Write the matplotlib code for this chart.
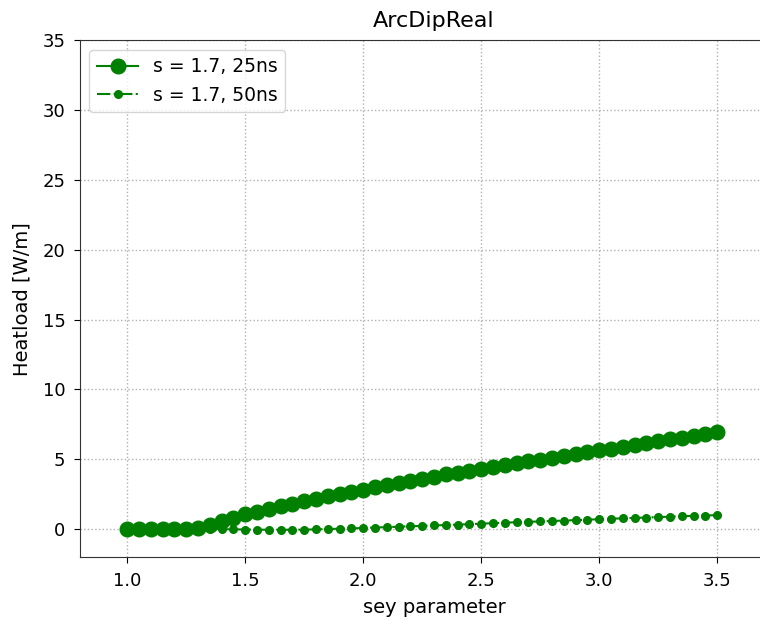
import matplotlib
matplotlib.use("Agg")
import matplotlib.pyplot as plt
import numpy as np

sey = [1.0, 1.05, 1.1, 1.15, 1.2, 1.25, 1.3, 1.35, 1.4, 1.45, 1.5, 1.55, 1.6, 1.65, 1.7,
       1.75, 1.8, 1.85, 1.9, 1.95, 2.0, 2.05, 2.1, 2.15, 2.2, 2.25, 2.3, 2.35, 2.4, 2.45,
       2.5, 2.55, 2.6, 2.65, 2.7, 2.75, 2.8, 2.85, 2.9, 2.95, 3.0, 3.05, 3.1, 3.15, 3.2,
       3.25, 3.3, 3.35, 3.4, 3.45, 3.5]

heat_25ns = [0.0, 0.0, 0.0, 0.0, 0.0, 0.0, 0.07, 0.28, 0.6, 0.83, 1.05, 1.24, 1.43, 1.62, 1.8,
             2.0, 2.15, 2.36, 2.5, 2.67, 2.8, 2.98, 3.14, 3.32, 3.46, 3.62, 3.76, 3.92, 4.05, 4.17,
             4.32, 4.45, 4.6, 4.71, 4.86, 4.98, 5.12, 5.24, 5.38, 5.5, 5.64, 5.76, 5.9, 6.04, 6.17,
             6.31, 6.43, 6.55, 6.67, 6.82, 6.95]

heat_50ns = [0.0, 0.0, 0.0, 0.0, 0.0, 0.0, 0.0, 0.02, 0.0, -0.02, -0.03, -0.04, -0.05, -0.05, -0.05,
             -0.04, -0.02, 0.0, 0.03, 0.05, 0.08, 0.11, 0.14, 0.17, 0.2, 0.23, 0.26, 0.29, 0.32, 0.35,
             0.39, 0.42, 0.46, 0.49, 0.52, 0.55, 0.58, 0.61, 0.64, 0.67, 0.71, 0.74, 0.77, 0.8, 0.83,
             0.86, 0.89, 0.92, 0.95, 0.97, 1.0]

labels = ["s = 1.7, 25ns", "s = 1.7, 50ns"]

fig = plt.figure(figsize=(7.6, 6.2), dpi=100)
ax = fig.add_axes([0.1053, 0.1016, 0.9315, 0.8331])

ax.plot(sey, heat_25ns, '-', marker='o', color='green', markersize=10.5, linewidth=1.5, label=labels[0])
ax.plot(sey, heat_50ns, '-.', marker='o', color='green', markersize=5.5, linewidth=1.5, label=labels[1])

ax.set_xlim(0.8, 3.8)
ax.set_ylim(-2, 35)
ax.set_xticks([1.0, 1.5, 2.0, 2.5, 3.0, 3.5])
ax.set_yticks([0, 5, 10, 15, 20, 25, 30, 35])
ax.grid(True, linestyle=':', color='#b0b0b0', linewidth=1)
ax.tick_params(labelsize=13, length=4.5, pad=6)
for s in ax.spines.values():
    s.set_color('#333333')
ax.set_xlabel("sey parameter", fontsize=14, labelpad=6)
ax.set_ylabel("Heatload [W/m]", fontsize=14, labelpad=8)
ax.set_title("ArcDipReal", fontsize=16, pad=10)
ax.legend(loc='upper left', fontsize=13.5, handlelength=2.2)

fig.savefig("out.png", dpi=100)
